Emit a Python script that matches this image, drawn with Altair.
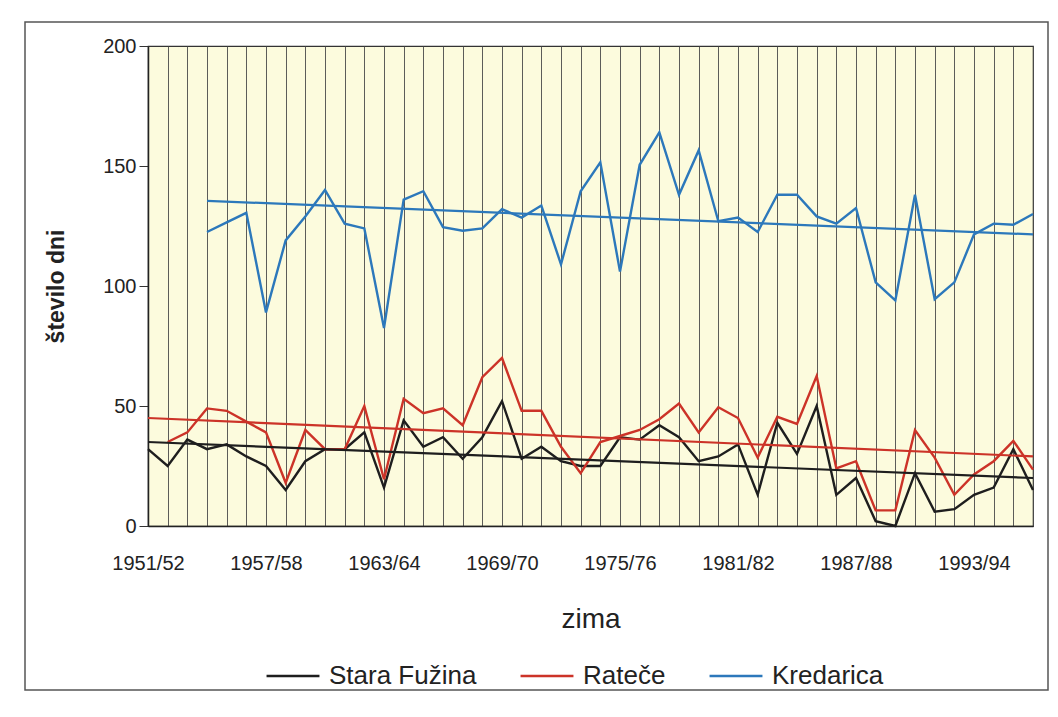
import altair as alt
import pandas as pd

winters = [
    "1951/52", "1952/53", "1953/54", "1954/55", "1955/56", "1956/57", "1957/58", "1958/59",
    "1959/60", "1960/61", "1961/62", "1962/63", "1963/64", "1964/65", "1965/66", "1966/67",
    "1967/68", "1968/69", "1969/70", "1970/71", "1971/72", "1972/73", "1973/74", "1974/75",
    "1975/76", "1976/77", "1977/78", "1978/79", "1979/80", "1980/81", "1981/82", "1982/83",
    "1983/84", "1984/85", "1985/86", "1986/87", "1987/88", "1988/89", "1989/90", "1990/91",
    "1991/92", "1992/93", "1993/94", "1994/95", "1995/96", "1996/97",
]

stara_fuzina = [
    32, 25, 36, 32, 34, 29, 25, 15, 27, 32, 32, 39, 16, 44, 33, 37,
    28, 37, 52, 28, 33, 27, 25, 25, 37, 36, 42, 37, 27, 29, 34, 13,
    43, 30, 50, 13, 20, 2, 0, 22, 6, 7, 13, 16, 32, 15,
]

ratece = [
    None, 35, 39, 49, 48, 43.5, 39, 18, 40, 32, 32, 50, 19.5, 53, 47, 49,
    42, 62, 70, 48, 48, 33, 22, 35, 37.5, 40, 44.5, 51, 39, 49.5, 45, 28.5,
    45.5, 42.5, 62.5, 24, 27, 6.5, 6.5, 40, 28.5, 13, 21.5, 27, 35.5, 23.5,
]

kredarica = [
    None, None, None, 122.5, 126.5, 130.5, 89, 119, 129, 140, 126, 124, 82.5, 136, 139.5, 124.5,
    123, 124, 132, 128.5, 133.5, 109, 139.5, 151.5, 106, 150.5, 164, 138, 156.5, 127, 128.5, 122.5,
    138, 138, 129, 126, 132.5, 101.5, 94, 138, 94.5, 101.5, 121.5, 126, 125.5, 130,
]

series_names = ["Stara Fužina", "Rateče", "Kredarica"]
series_colors = ["#1e1e1e", "#cc3328", "#2c78bb"]

trend_series = ["Stara Fužina", "Stara Fužina", "Rateče", "Rateče", "Kredarica", "Kredarica"]
trend_winter = ["1951/52", "1996/97", "1951/52", "1996/97", "1954/55", "1996/97"]
trend_value = [35, 20, 45, 29, 135.5, 121.5]

rows = []
for name, vals in zip(series_names, [stara_fuzina, ratece, kredarica]):
    for w, v in zip(winters, vals):
        if v is not None:
            rows.append({"zima": w, "postaja": name, "dni": v})
df = pd.DataFrame(rows)
tdf = pd.DataFrame({"zima": trend_winter, "postaja": trend_series, "dni": trend_value})

FONT = "Liberation Sans"

x_enc = alt.X(
    "zima:O",
    sort=winters,
    scale=alt.Scale(type="point", padding=0, domain=winters),
    axis=alt.Axis(
        title="zima",
        labelExpr="toNumber(slice(datum.value, 0, 4)) % 6 == 1 ? datum.value : ''",
        labelAngle=0,
        labelOverlap=False,
        labelFontSize=20,
        labelFont=FONT,
        labelColor="#222222",
        labelPadding=27,
        ticks=False,
        grid=True,
        gridColor="#4a4a4a",
        gridWidth=0.9,
        domainColor="#222222",
        domainWidth=1.5,
        titleFontSize=28,
        titleFont=FONT,
        titleFontWeight="normal",
        titleColor="#222222",
        titlePadding=32,
    ),
)

y_enc = alt.Y(
    "dni:Q",
    scale=alt.Scale(domain=[0, 200], nice=False),
    axis=alt.Axis(
        title="število dni",
        values=[0, 50, 100, 150, 200],
        grid=False,
        tickSize=9,
        tickColor="#333333",
        labelFontSize=20,
        labelFont=FONT,
        labelColor="#222222",
        labelPadding=3,
        domainColor="#222222",
        domainWidth=1.5,
        titleFontSize=23,
        titleFont=FONT,
        titleFontWeight="bold",
        titleColor="#222222",
        titlePadding=34,
    ),
)

color_enc = alt.Color(
    "postaja:N",
    scale=alt.Scale(domain=series_names, range=series_colors),
    legend=alt.Legend(
        title=None,
        orient="none",
        direction="horizontal",
        legendX=117,
        legendY=602,
        symbolType="stroke",
        symbolSize=2800,
        symbolStrokeWidth=2.5,
        labelFontSize=26,
        labelFont=FONT,
        labelColor="#222222",
        labelOffset=8,
        columnPadding=38,
        padding=0,
    ),
)

frame = alt.Chart(pd.DataFrame({"a": [0]})).mark_rect(
    fill=None, stroke="#555555", strokeWidth=1.5
).encode(
    x=alt.value(-123), x2=alt.value(900), y=alt.value(-24), y2=alt.value(644)
)

lines = alt.Chart(df).mark_line(strokeWidth=2.4).encode(
    x=x_enc, y=y_enc, color=color_enc, detail="postaja:N"
)

trends = alt.Chart(tdf).mark_line(strokeWidth=2.2).encode(
    x=x_enc, y=y_enc, color=color_enc, detail="postaja:N"
)

chart = alt.layer(frame, lines, trends).properties(
    width=885,
    height=480,
    autosize=alt.AutoSizeParams(type="none"),
    padding={"left": 148, "top": 46, "right": 25, "bottom": 191},
    background="white",
).configure_view(
    fill="#FCFBDD", stroke="#333333", strokeWidth=1.2
)

chart.save("out.html", embed_options={"renderer": "svg", "actions": False})
